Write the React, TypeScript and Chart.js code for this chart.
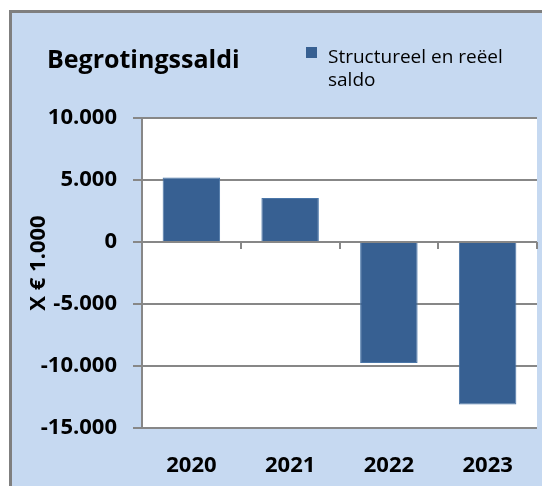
import React, { useEffect, useRef } from "react";
import { Chart, registerables } from "chart.js";

Chart.register(...registerables);

const categories = ["2020", "2021", "2022", "2023"];
const saldo = [5200, 3550, -9750, -13100];
const yMin = -15000;
const yMax = 10000;
const yStep = 5000;
const chartTitle = "Begrotingssaldi";
const legendLines = ["Structureel en reëel", "saldo"];
const yAxisTitle = "X € 1.000";

const FONT = "'Open Sans', sans-serif";
const BAR = "#376092";
const GRID = "#878787";

const fmt = (v: number) => {
  const s = Math.abs(v).toString().replace(/\B(?=(\d{3})+(?!\d))/g, ".");
  return (v < 0 ? "-" : "") + s;
};

const decor = {
  id: "decor",
  beforeDraw(chart: any) {
    const { ctx, chartArea } = chart;
    ctx.save();
    ctx.fillStyle = "#ffffff";
    ctx.fillRect(chartArea.left, chartArea.top, chartArea.right - chartArea.left, chartArea.bottom - chartArea.top);
    ctx.restore();
  },
  afterDraw(chart: any) {
    const { ctx, chartArea } = chart;
    ctx.save();
    ctx.fillStyle = "#000000";
    ctx.textAlign = "left";
    ctx.textBaseline = "alphabetic";
    ctx.font = `bold 25px ${FONT}`;
    ctx.fillText(chartTitle, 35, 55);
    // legend
    ctx.fillStyle = BAR;
    ctx.fillRect(294, 34, 11, 11);
    ctx.fillStyle = "#000000";
    ctx.font = `19px ${FONT}`;
    legendLines.forEach((t, i) => ctx.fillText(t, 316, 50 + i * 23));
    // y title
    ctx.translate(26.5, (chartArea.top + chartArea.bottom) / 2 - 10);
    ctx.rotate(-Math.PI / 2);
    ctx.textAlign = "center";
    ctx.textBaseline = "middle";
    ctx.font = `bold 22px ${FONT}`;
    ctx.fillText(yAxisTitle, 0, 0);
    ctx.restore();
  },
};

export default function App() {
  const ref = useRef<HTMLCanvasElement>(null);
  useEffect(() => {
    const chart = new Chart(ref.current!, {
      type: "bar",
      data: {
        labels: categories,
        datasets: [
          {
            label: legendLines.join(" "),
            data: saldo,
            backgroundColor: BAR,
            borderColor: "#4a76a8",
            borderWidth: 1,
            barPercentage: 0.582,
            categoryPercentage: 1,
            xAxisID: "x",
          },
        ],
      },
      options: {
        responsive: false,
        animation: false,
        layout: { padding: { top: 105, right: 5, left: 0, bottom: 0 } },
        plugins: { legend: { display: false }, title: { display: false }, tooltip: { enabled: false } },
        scales: {
          x: {
            type: "category",
            position: "bottom",
            offset: true,
            grid: { display: false },
            border: { display: false },
            ticks: { color: "#000", font: { family: FONT, size: 22, weight: "bold" }, padding: 17, maxRotation: 0 },
            afterFit: (s: any) => { s.height = 58; },
          },
          x2: {
            type: "category",
            position: { y: 0 } as any,
            offset: true,
            grid: { display: true, drawOnChartArea: false, drawTicks: true, tickLength: 7, color: GRID, lineWidth: 2, offset: true },
            border: { display: false },
            ticks: { display: false },
            afterFit: (s: any) => { s.height = 0; },
          },
          y: {
            min: yMin,
            max: yMax,
            grid: { color: GRID, lineWidth: 2, tickLength: 9 },
            border: { display: true, color: GRID, width: 2 },
            ticks: {
              stepSize: yStep,
              color: "#000",
              padding: 16,
              font: { family: FONT, size: 22, weight: "bold" },
              callback: (v: any) => fmt(Number(v)),
            },
            afterFit: (s: any) => { s.width = 130; },
          },
        },
      },
      plugins: [decor],
    });
    return () => chart.destroy();
  }, []);
  return (
    <div
      style={{
        position: "absolute",
        left: 9,
        top: 10,
        width: 533,
        height: 476,
        boxSizing: "border-box",
        borderLeft: "3px solid #7f7f7f",
        borderTop: "3px solid #7f7f7f",
        background: "#c6d9f1",
      }}
    >
      <canvas ref={ref} width={530} height={473} style={{ display: "block", width: 530, height: 473 }} />
    </div>
  );
}
